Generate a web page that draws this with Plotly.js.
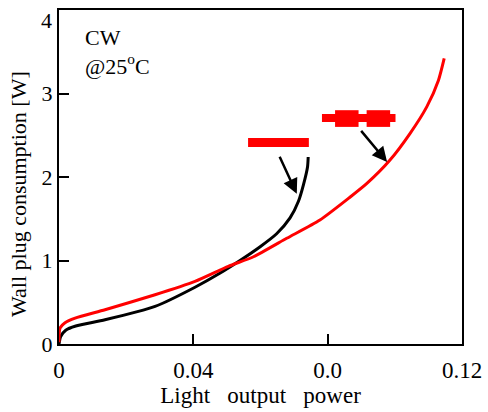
<!DOCTYPE html>
<html>
<head>
<meta charset="utf-8">
<script src="https://cdn.plot.ly/plotly-3.0.1.min.js"></script>
<style>html,body{margin:0;padding:0;background:#fff;}#chart{width:488px;height:412px;}</style>
</head>
<body>
<div id="chart"></div>
<script>
// Black curve (first device)
const blackX = [0, 0.0005, 0.002, 0.005, 0.0137, 0.0286, 0.0405, 0.048, 0.0539, 0.0599, 0.0648, 0.0688, 0.0713, 0.0728, 0.0740, 0.0742];
const blackY = [0, 0.09, 0.165, 0.215, 0.29, 0.45, 0.68, 0.85, 1.0, 1.165, 1.32, 1.51, 1.71, 1.91, 2.12, 2.24];
// Red curve (second device)
const redX = [0, 0.0003, 0.0018, 0.0048, 0.0137, 0.0286, 0.0405, 0.0504, 0.0579, 0.0678, 0.0777, 0.0867, 0.0916, 0.0985, 0.1045, 0.1095, 0.113, 0.1147];
const redY = [0.02, 0.19, 0.255, 0.31, 0.41, 0.59, 0.75, 0.93, 1.045, 1.266, 1.485, 1.76, 1.92, 2.20, 2.52, 2.84, 3.16, 3.42];
// Axis ticks
const xTickVals = [0, 0.04, 0.08, 0.12];
const xTickText = ["0", "0.04", "0.0", "0.12"];
const yTickVals = [0, 1, 2, 3, 4];
const yTickText = ["0", "1", "2", "3", ""];
const yTopLabel = "4";
// Titles and labels
const xTitle = "Light\u00a0\u00a0\u00a0output\u00a0\u00a0\u00a0power";
const yTitle = "Wall plug consumption [W]";
const noteText = "CW<br>@25<sup>o</sup>C";
// Arrows: [tailX, tailY, headX, headY]
const arrows = [[0.0655, 2.26, 0.0708, 1.80], [0.0896, 2.57, 0.0977, 2.18]];
// Red device symbols: [x0, x1, y0, y1]
const symbols = [
  [0.0563, 0.0744, 2.36, 2.467],
  [0.0783, 0.1002, 2.66, 2.755],
  [0.0822, 0.0892, 2.60, 2.80],
  [0.0916, 0.0986, 2.60, 2.80]
];

const serif = "Liberation Serif, Times New Roman, serif";

const traces = [
  {x: blackX, y: blackY, mode: 'lines', line: {color: '#000', width: 3, shape: 'spline', smoothing: 0.6}, hoverinfo: 'skip'},
  {x: redX, y: redY, mode: 'lines', line: {color: '#ff0000', width: 3, shape: 'spline', smoothing: 0.6}, hoverinfo: 'skip'}
];

const annotations = arrows.map(a => ({
  x: a[2], y: a[3], ax: a[0], ay: a[1], xref: 'x', yref: 'y', axref: 'x', ayref: 'y',
  showarrow: true, arrowhead: 2, arrowsize: 1.2, arrowwidth: 2.5, arrowcolor: '#000', text: ''
}));
annotations.push({
  x: 0.0072, y: 3.84, xref: 'x', yref: 'y', xanchor: 'left', yanchor: 'top', align: 'left',
  showarrow: false, text: noteText, font: {family: serif, size: 22, color: '#000'}
});
annotations.push({
  x: 0, y: 1, xref: 'paper', yref: 'paper', xshift: -5, yshift: -10, showarrow: false,
  text: yTopLabel, xanchor: 'right', yanchor: 'middle', font: {family: serif, size: 22, color: '#000'}
});
annotations.push({
  x: -0.102, y: 0.449, xref: 'paper', yref: 'paper', showarrow: false, textangle: -90,
  xanchor: 'center', yanchor: 'middle', text: yTitle, font: {family: serif, size: 22, color: '#000'}
});

const shapes = symbols.map(s => ({
  type: 'rect', xref: 'x', yref: 'y', x0: s[0], x1: s[1], y0: s[2], y1: s[3],
  fillcolor: '#ff0000', line: {width: 0}
}));

const layout = {
  width: 488, height: 412,
  margin: {l: 59, r: 26, t: 10, b: 68},
  paper_bgcolor: '#fff', plot_bgcolor: '#fff',
  showlegend: false,
  font: {family: serif, color: '#000'},
  xaxis: {
    range: [0, 0.12], tickvals: xTickVals, ticktext: xTickText,
    showgrid: false, zeroline: false, showline: true, mirror: true, linewidth: 2, linecolor: '#000',
    ticks: 'inside', ticklen: 10, tickwidth: 2, tickcolor: '#000',
    tickfont: {family: serif, size: 23, color: '#000'}, ticklabelstandoff: 4,
    title: {text: xTitle, font: {family: serif, size: 23, color: '#000'}, standoff: 4}
  },
  yaxis: {
    range: [0, 4], tickvals: yTickVals, ticktext: yTickText,
    showgrid: false, zeroline: false, showline: true, mirror: true, linewidth: 2, linecolor: '#000',
    ticks: 'inside', ticklen: 10, tickwidth: 2, tickcolor: '#000',
    tickfont: {family: serif, size: 22, color: '#000'}, ticklabelstandoff: 0
  },
  annotations: annotations,
  shapes: shapes
};

Plotly.newPlot('chart', traces, layout, {staticPlot: true, displayModeBar: false});
</script>
</body>
</html>
